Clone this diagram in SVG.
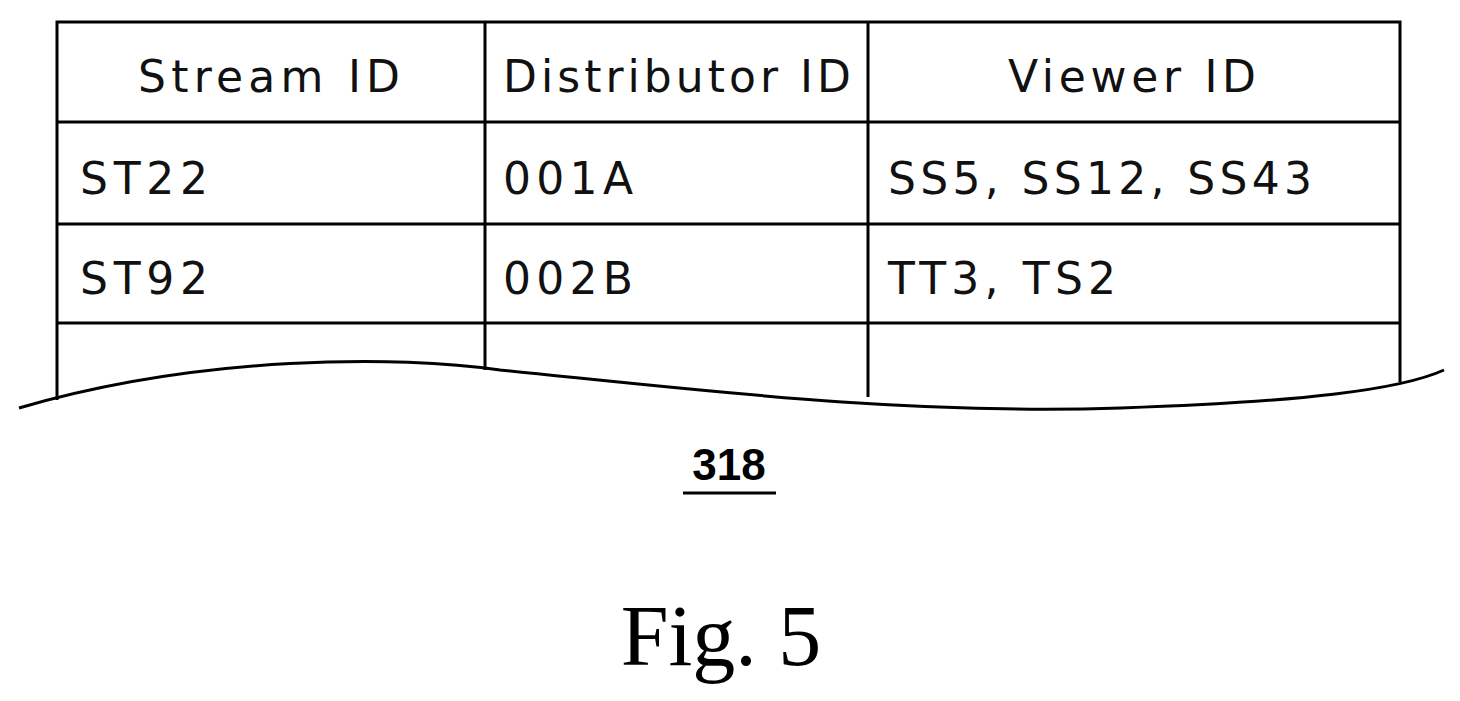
<svg xmlns="http://www.w3.org/2000/svg" width="1460" height="701" viewBox="0 0 1460 701">
<style>
.l{stroke:#000;stroke-width:3;fill:none}
.t{font-family:"DejaVu Sans",sans-serif;font-size:44px;fill:#111}
</style>
<rect width="1460" height="701" fill="#fff"/>
<g id="table">
<path class="l" d="M57,400 V22 H1400 V382"/>
<path class="l" d="M485,22 V370 M868,22 V397" stroke-width="2"/>
<path class="l" d="M57,122 H1400 M57,224 H1400 M57,323 H1400"/>
<path class="l" d="M19,408 C200,355 400,355 500,370 C700,390 900,415 1121,408 C1300,402 1400,390 1444,370"/>
</g>
<g id="cells" class="t">
<text x="138" y="92" textLength="262" lengthAdjust="spacing">Stream ID</text>
<text x="503" y="92" textLength="348" lengthAdjust="spacing">Distributor ID</text>
<text x="1008" y="92" textLength="248" lengthAdjust="spacing">Viewer ID</text>
<text x="80" y="194" textLength="128" lengthAdjust="spacing">ST22</text>
<text x="503" y="194" textLength="130" lengthAdjust="spacing">001A</text>
<text x="888" y="194" textLength="424" lengthAdjust="spacing">SS5, SS12, SS43</text>
<text x="80" y="294" textLength="128" lengthAdjust="spacing">ST92</text>
<text x="503" y="294" textLength="130" lengthAdjust="spacing">002B</text>
<text x="888" y="294" textLength="228" lengthAdjust="spacing">TT3, TS2</text>
</g>
<g id="label">
<text x="729" y="480" text-anchor="middle" font-family="Liberation Sans,sans-serif" font-weight="bold" font-size="44">318</text>
<line x1="683" y1="493" x2="776" y2="493" stroke="#000" stroke-width="3"/>
<text x="721" y="665" text-anchor="middle" font-family="Liberation Serif,serif" font-size="86">Fig. 5</text>
</g>
</svg>
